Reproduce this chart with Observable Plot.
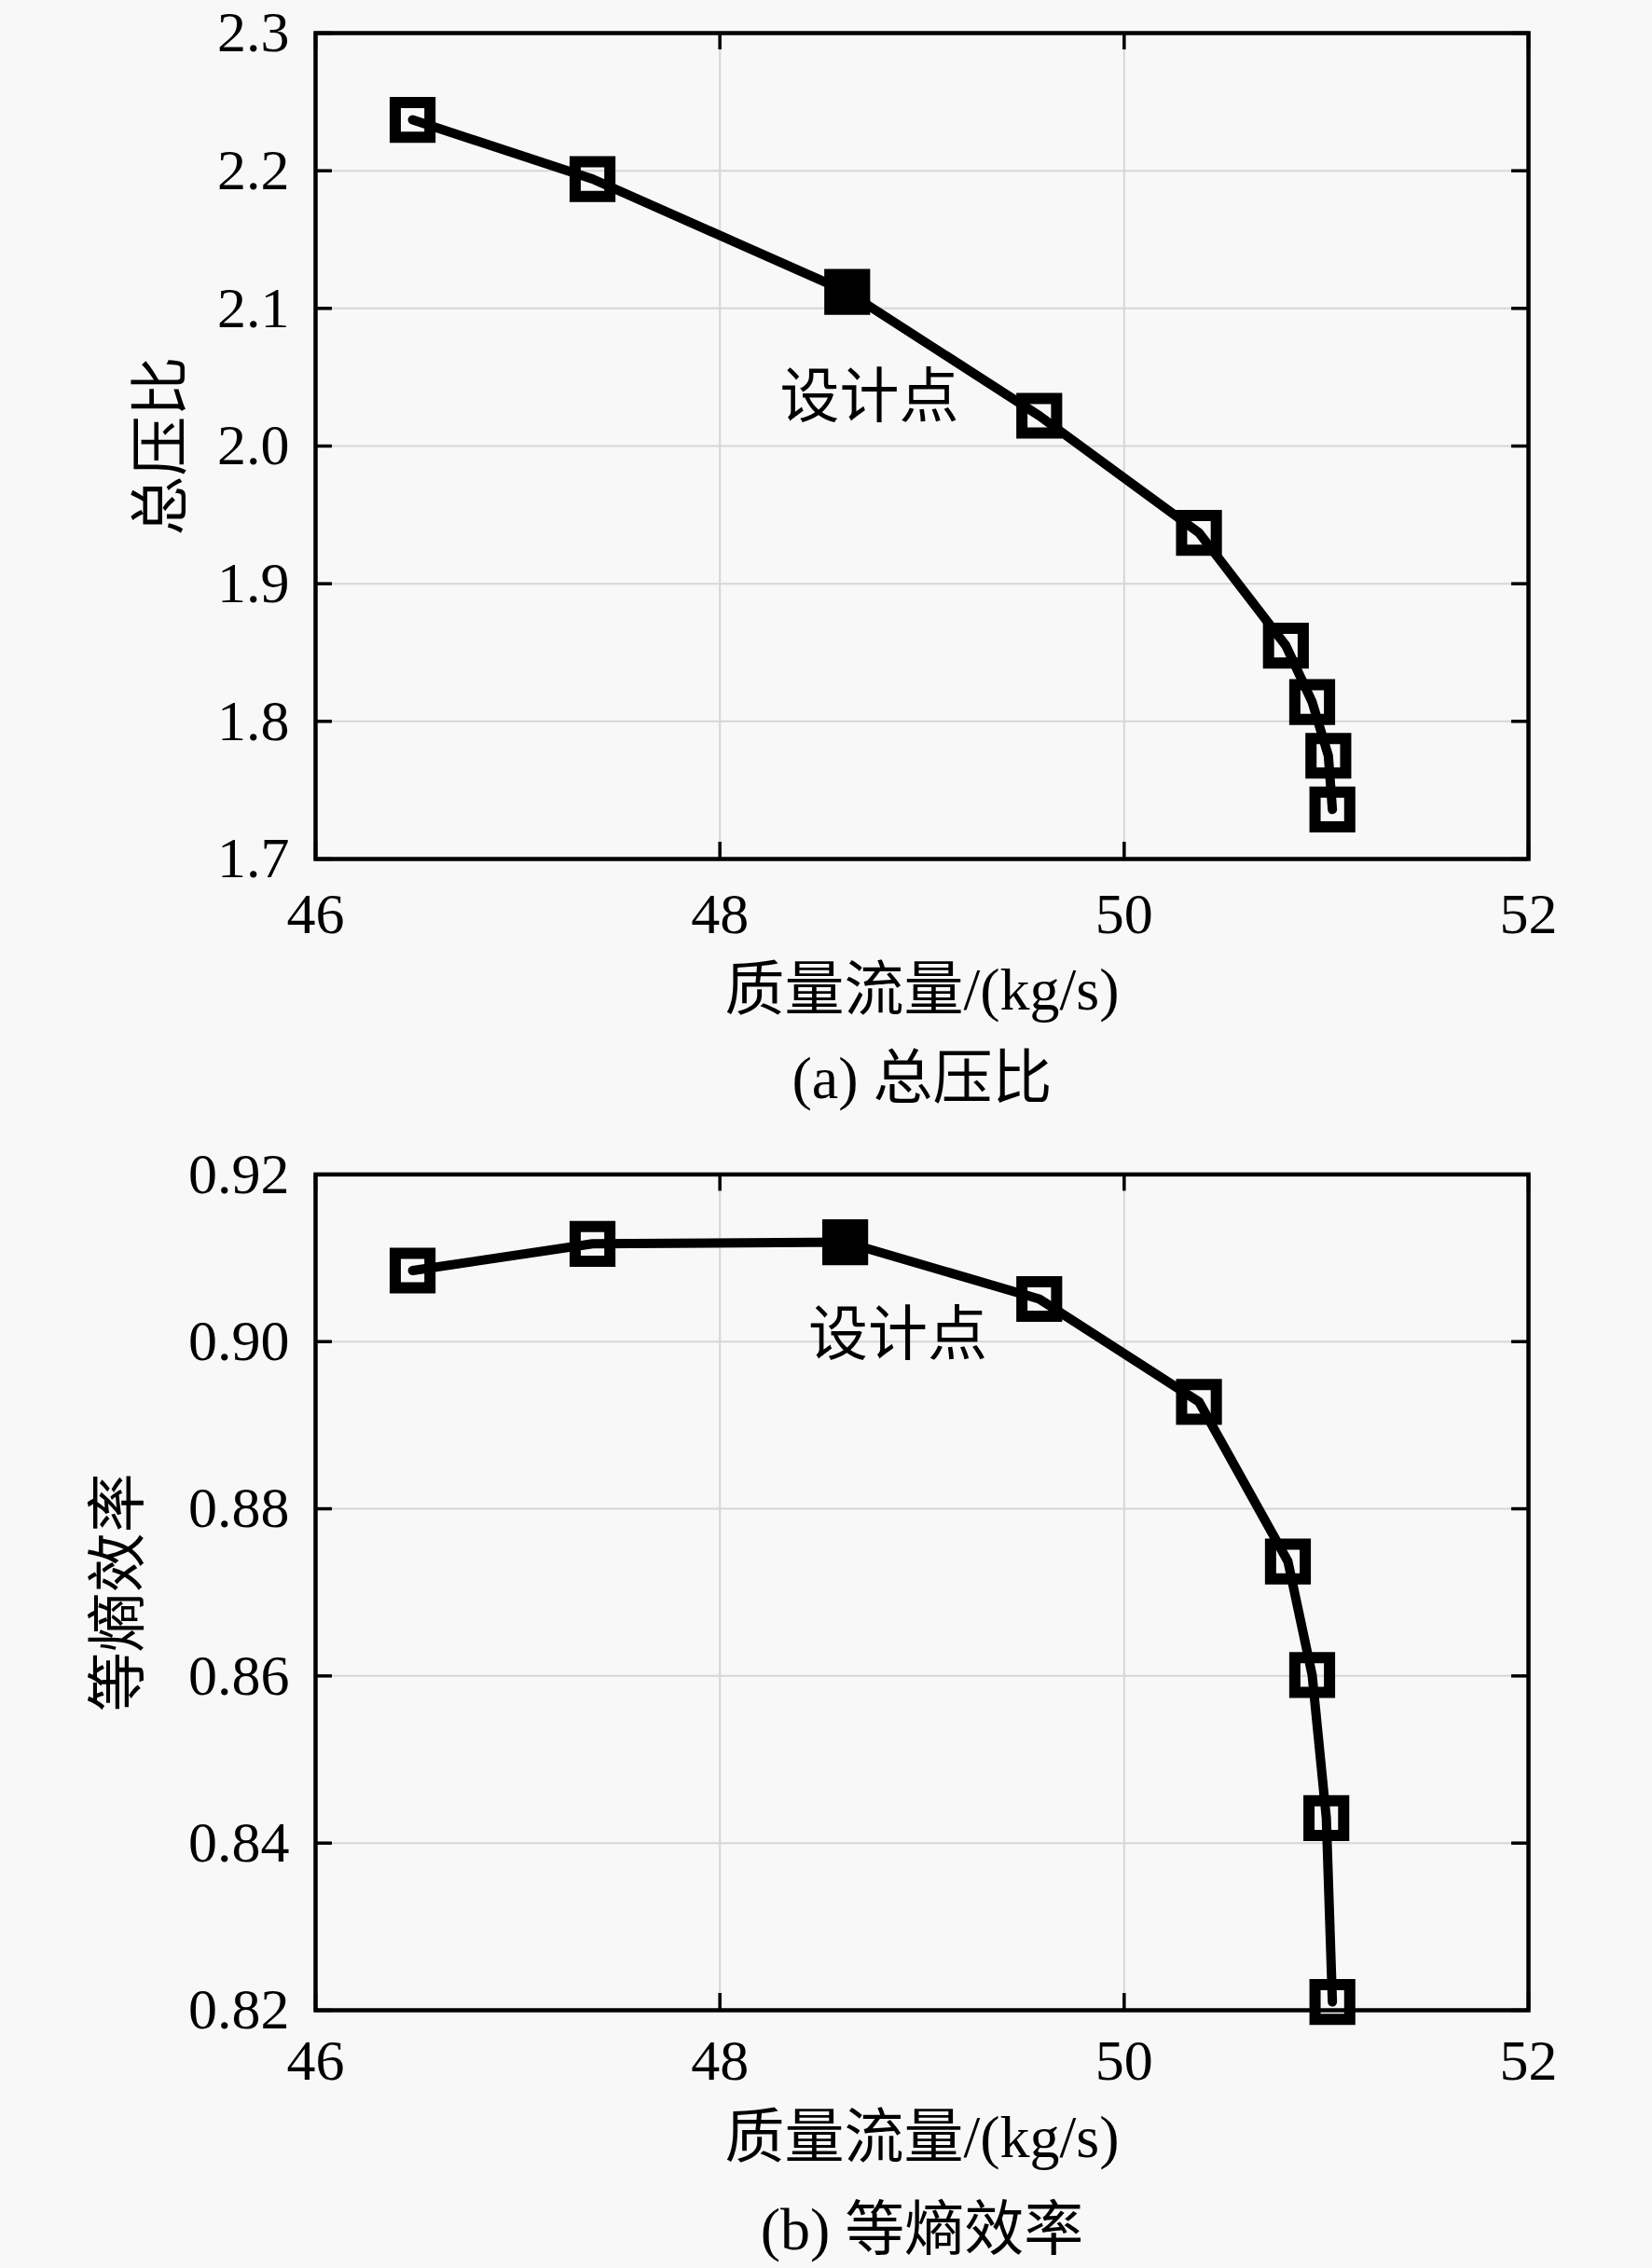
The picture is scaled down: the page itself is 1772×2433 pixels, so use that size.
<!DOCTYPE html>
<html>
<head>
<meta charset="utf-8">
<script src="https://cdn.jsdelivr.net/npm/d3@7"></script>
<script src="https://cdn.jsdelivr.net/npm/@observablehq/plot@0.6"></script>
<style>
  html, body { margin: 0; padding: 0; background: #f8f8f8; }
  #chart svg { display: block; overflow: visible; }
</style>
</head>
<body>
<div id="chart"></div>
<script>
// ---- data ----
const massFlowA = [46.48, 47.37, 48.63, 49.58, 50.37, 50.80, 50.93, 51.01, 51.03];
const pressureRatio = [2.237, 2.194, 2.112, 2.022, 1.937, 1.855, 1.814, 1.775, 1.736];
const massFlowB = [46.48, 47.37, 48.62, 49.58, 50.37, 50.81, 50.93, 51.00, 51.03];
const efficiency = [0.9085, 0.9117, 0.9119, 0.9051, 0.8928, 0.8737, 0.8601, 0.8430, 0.8210];
const designIndex = 2;

const xTicks = [46, 48, 50, 52];
const xTickLabels = ["46", "48", "50", "52"];
const yTicksA = [1.7, 1.8, 1.9, 2.0, 2.1, 2.2, 2.3];
const yTickLabelsA = ["1.7", "1.8", "1.9", "2.0", "2.1", "2.2", "2.3"];
const yTicksB = [0.82, 0.84, 0.86, 0.88, 0.90, 0.92];
const yTickLabelsB = ["0.82", "0.84", "0.86", "0.88", "0.90", "0.92"];

const xLabel = "质量流量/(kg/s)";
const yLabelA = "总压比";
const yLabelB = "等熵效率";
const captionA = "(a) 总压比";
const captionB = "(b) 等熵效率";
const annotationText = "设计点";
const annotationA = {x: 48.74, y: 2.035};
const annotationB = {x: 48.88, y: 0.9008};

const FONT = "'Liberation Serif', 'Noto Sans CJK SC', serif";

function panel({xs, ys, yDomain, yTicks, yTickLabels, yLabel, caption, anno,
                height, mt, mb, xTickPad, xLabelDy, captionDy, yLabelDx}) {
  const ml = 338, mr = 133, width = 1772;
  const W = width - ml - mr;
  const H = height - mt - mb;
  const pts = xs.map((x, i) => ({x, y: ys[i], design: i === designIndex}));
  return Plot.plot({
    width, height,
    marginLeft: ml, marginRight: mr, marginTop: mt, marginBottom: mb,
    style: {fontFamily: FONT, background: "#f8f8f8", color: "black", overflow: "visible"},
    x: {domain: [46, 52]},
    y: {domain: yDomain},
    marks: [
      Plot.gridX(xTicks, {stroke: "#d6d6d6", strokeOpacity: 1, strokeWidth: 2}),
      Plot.gridY(yTicks, {stroke: "#d6d6d6", strokeOpacity: 1, strokeWidth: 2}),
      // inward ticks
      Plot.tickY(yTicks, {y: d => d, insetRight: W - 18, stroke: "black", strokeWidth: 3.5}),
      Plot.tickY(yTicks, {y: d => d, insetLeft: W - 18, stroke: "black", strokeWidth: 3.5}),
      Plot.tickX(xTicks, {x: d => d, insetTop: H - 18, stroke: "black", strokeWidth: 3.5}),
      Plot.tickX(xTicks, {x: d => d, insetBottom: H - 18, stroke: "black", strokeWidth: 3.5}),
      Plot.axisX(xTicks, {tickSize: 0, tickPadding: xTickPad, fontSize: 62, label: null, fill: "black",
        tickFormat: (d) => xTickLabels[xTicks.indexOf(d)]}),
      Plot.axisY(yTicks, {tickSize: 0, tickPadding: 28, fontSize: 62, label: null, fill: "black",
        tickFormat: (d) => yTickLabels[yTicks.indexOf(d)]}),
      Plot.line(pts, {x: "x", y: "y", stroke: "black", strokeWidth: 10, strokeLinejoin: "round"}),
      Plot.dot(pts.filter(d => !d.design), {x: "x", y: "y", symbol: "square", r: 21,
        fill: "none", stroke: "black", strokeWidth: 12}),
      Plot.dot(pts.filter(d => d.design), {x: "x", y: "y", symbol: "square", r: 21,
        fill: "black", stroke: "black", strokeWidth: 12}),
      Plot.text([anno], {x: "x", y: "y", text: () => annotationText, fontSize: 64,
        fill: "black", lineAnchor: "middle"}),
      Plot.frame({stroke: "black", strokeWidth: 4.5}),
      Plot.text([xLabel], {text: d => d, frameAnchor: "bottom", dy: xLabelDy, fontSize: 64,
        textAnchor: "middle", lineAnchor: "middle", fill: "black"}),
      Plot.text([caption], {text: d => d, frameAnchor: "bottom", dy: captionDy, fontSize: 64,
        textAnchor: "middle", lineAnchor: "middle", fill: "black"}),
      Plot.text([yLabel], {text: d => d, frameAnchor: "left", dx: yLabelDx, rotate: -90,
        fontSize: 64, textAnchor: "middle", lineAnchor: "middle", fill: "black"})
    ]
  });
}

const chart = document.getElementById("chart");
chart.appendChild(panel({
  xs: massFlowA, ys: pressureRatio, yDomain: [1.7, 2.3],
  yTicks: yTicksA, yTickLabels: yTickLabelsA, yLabel: yLabelA, caption: captionA,
  anno: annotationA, height: 1215, mt: 35, mb: 294,
  xTickPad: 35, xLabelDy: 141, captionDy: 236, yLabelDx: -165
}));
chart.appendChild(panel({
  xs: massFlowB, ys: efficiency, yDomain: [0.82, 0.92],
  yTicks: yTicksB, yTickLabels: yTickLabelsB, yLabel: yLabelB, caption: captionB,
  anno: annotationB, height: 1218, mt: 44.4, mb: 277,
  xTickPad: 30, xLabelDy: 137, captionDy: 236, yLabelDx: -211
}));
</script>
</body>
</html>
